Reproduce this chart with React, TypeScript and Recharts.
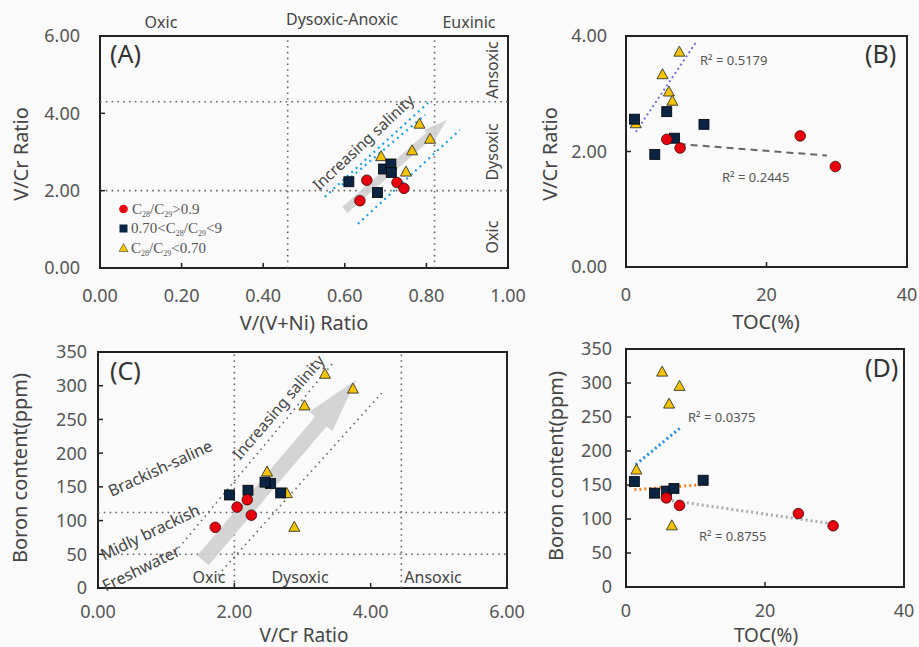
import React from 'react';
import { ScatterChart, Scatter, XAxis, YAxis, ReferenceLine, ReferenceArea } from 'recharts';

const FONT = '"Noto Sans", "Open Sans", sans-serif';
const SERIF = '"Liberation Serif", "Times New Roman", serif';
const TICK = '#555';
const LABEL = '#444';

type Pt = { x: number; y: number };

// ---- Panel A: V/(V+Ni) vs V/Cr ----
const aCircles: Pt[] = [{ x: 0.728, y: 2.21 }, { x: 0.745, y: 2.06 }, { x: 0.654, y: 2.27 }, { x: 0.637, y: 1.74 }];
const aSquares: Pt[] = [{ x: 0.695, y: 2.56 }, { x: 0.713, y: 2.69 }, { x: 0.61, y: 2.23 }, { x: 0.68, y: 1.95 }, { x: 0.714, y: 2.47 }];
const aTriangles: Pt[] = [{ x: 0.783, y: 3.72 }, { x: 0.809, y: 3.33 }, { x: 0.765, y: 3.03 }, { x: 0.689, y: 2.88 }, { x: 0.75, y: 2.48 }];
const aXTicks = [0, 0.2, 0.4, 0.6, 0.8, 1.0];
const aYTicks = [0, 2, 4, 6];
const aHLines = [2.0, 4.3];
const aVLines = [0.46, 0.82];
const aChannelUpper: Pt[] = [{ x: 0.551, y: 1.84 }, { x: 0.804, y: 4.27 }];
const aChannelMiddle: Pt[] = [{ x: 0.593, y: 2.15 }, { x: 0.797, y: 3.96 }];
const aChannelLower: Pt[] = [{ x: 0.632, y: 1.14 }, { x: 0.882, y: 3.57 }];
const aArrow: Pt[] = [{ x: 0.6, y: 1.5 }, { x: 0.85, y: 3.83 }];

// ---- Panel B: TOC vs V/Cr ----
const bCircles: Pt[] = [{ x: 5.8, y: 2.21 }, { x: 7.7, y: 2.06 }, { x: 24.8, y: 2.27 }, { x: 29.8, y: 1.74 }];
const bSquares: Pt[] = [{ x: 1.2, y: 2.56 }, { x: 5.8, y: 2.69 }, { x: 6.9, y: 2.23 }, { x: 4.1, y: 1.95 }, { x: 11.1, y: 2.47 }];
const bTriangles: Pt[] = [{ x: 7.6, y: 3.72 }, { x: 5.2, y: 3.33 }, { x: 6.1, y: 3.03 }, { x: 6.6, y: 2.87 }, { x: 1.4, y: 2.48 }];
const bXTicks = [0, 20, 40];
const bYTicks = [0, 2, 4];
const bTrendTriangles: Pt[] = [{ x: 1.4, y: 2.34 }, { x: 9.9, y: 3.88 }];
const bTrendCircles: Pt[] = [{ x: 7.5, y: 2.13 }, { x: 28.6, y: 1.93 }];

// ---- Panel C: V/Cr vs Boron ----
const cCircles: Pt[] = [{ x: 2.19, y: 131 }, { x: 2.04, y: 120 }, { x: 2.25, y: 108 }, { x: 1.72, y: 90 }];
const cSquares: Pt[] = [{ x: 2.53, y: 155 }, { x: 2.68, y: 141 }, { x: 2.2, y: 145 }, { x: 1.93, y: 138 }, { x: 2.45, y: 157 }];
const cTriangles: Pt[] = [{ x: 3.33, y: 317 }, { x: 3.74, y: 295 }, { x: 3.03, y: 270 }, { x: 2.48, y: 172 }, { x: 2.88, y: 90 }, { x: 2.77, y: 140 }];
const cXTicks = [0, 2, 4, 6];
const cYTicks = [0, 50, 100, 150, 200, 250, 300, 350];
const cHLines = [50, 112];
const cVLines = [2.0, 4.45];
const cChannelLeft: Pt[] = [{ x: 1.13, y: 53 }, { x: 3.45, y: 334 }];
const cChannelRight: Pt[] = [{ x: 1.76, y: 19 }, { x: 4.16, y: 289 }];
const cArrow: Pt[] = [{ x: 1.54, y: 41 }, { x: 3.79, y: 309 }];

// ---- Panel D: TOC vs Boron ----
const dCircles: Pt[] = [{ x: 5.8, y: 131 }, { x: 7.7, y: 120 }, { x: 24.8, y: 108 }, { x: 29.8, y: 90 }];
const dSquares: Pt[] = [{ x: 1.2, y: 155 }, { x: 5.8, y: 141 }, { x: 6.9, y: 145 }, { x: 4.1, y: 138 }, { x: 11.1, y: 157 }];
const dTriangles: Pt[] = [{ x: 5.2, y: 316 }, { x: 7.7, y: 295 }, { x: 6.2, y: 269 }, { x: 1.5, y: 172 }, { x: 6.6, y: 90 }];
const dXTicks = [0, 20, 40];
const dYTicks = [0, 50, 100, 150, 200, 250, 300, 350];
const dTrendTriangles: Pt[] = [{ x: 1.4, y: 180 }, { x: 7.8, y: 234 }];
const dTrendSquares: Pt[] = [{ x: 1.2, y: 143 }, { x: 11.6, y: 151 }];
const dTrendCircles: Pt[] = [{ x: 5.9, y: 128 }, { x: 29.7, y: 93 }];

// ---- marker shapes ----
const circleShape = (p: any) => (
  <circle cx={p.cx} cy={p.cy} r={5.3} fill="#e8000e" stroke="#3a0a0a" strokeWidth={0.8} />
);
const squareShape = (p: any) => (
  <rect x={p.cx - 5} y={p.cy - 5} width={10} height={10} fill="#0c2444" stroke="#000" strokeWidth={0.8} />
);
const triShape = (p: any) => (
  <polygon
    points={`${p.cx},${p.cy - 6} ${p.cx + 5.5},${p.cy + 4} ${p.cx - 5.5},${p.cy + 4}`}
    fill="#f5c300"
    stroke="#333"
    strokeWidth={0.9}
  />
);

const makeArrow = (shaft: number, headW: number, headL: number) => (p: any) => {
  const { x1, y1, x2, y2 } = p;
  if (x1 == null || y1 == null || x2 == null || y2 == null) return <g />;
  const dx = x2 - x1;
  const dy = y2 - y1;
  const L = Math.hypot(dx, dy) || 1;
  const ux = dx / L;
  const uy = dy / L;
  const nx = -uy;
  const ny = ux;
  const bx = x2 - ux * headL;
  const by = y2 - uy * headL;
  const pts = [
    [x1 + (nx * shaft) / 2, y1 + (ny * shaft) / 2],
    [bx + (nx * shaft) / 2, by + (ny * shaft) / 2],
    [bx + (nx * headW) / 2, by + (ny * headW) / 2],
    [x2, y2],
    [bx - (nx * headW) / 2, by - (ny * headW) / 2],
    [bx - (nx * shaft) / 2, by - (ny * shaft) / 2],
    [x1 - (nx * shaft) / 2, y1 - (ny * shaft) / 2],
  ];
  return <polygon points={pts.map((q) => q.join(',')).join(' ')} fill="#cfcfcf" fillOpacity={0.9} />;
};

interface PanelProps {
  left: number;
  top: number;
  width: number;
  height: number;
  margin: { top: number; right: number; bottom: number; left: number };
  xDomain: [number, number];
  yDomain: [number, number];
  xTicks: number[];
  yTicks: number[];
  xFmt: (v: number) => string;
  yFmt: (v: number) => string;
  xTickMargin: number;
  yTickMargin: number;
  circles: Pt[];
  squares: Pt[];
  triangles: Pt[];
  extras: React.ReactNode;
}

function Panel(props: PanelProps) {
  const tickStyle = { fill: TICK, fontSize: 18, fontFamily: FONT };
  return (
    <div style={{ position: 'absolute', left: props.left, top: props.top, width: props.width, height: props.height }}>
      <ScatterChart width={props.width} height={props.height} margin={props.margin}>
        <XAxis
          type="number"
          dataKey="x"
          domain={props.xDomain}
          ticks={props.xTicks}
          tickFormatter={props.xFmt}
          allowDataOverflow
          axisLine={false}
          tickLine={{ stroke: '#222', strokeWidth: 1.5 }}
          tickSize={-5}
          tickMargin={props.xTickMargin}
          tick={tickStyle}
          height={30}
          interval={0}
        />
        <YAxis
          type="number"
          dataKey="y"
          domain={props.yDomain}
          ticks={props.yTicks}
          tickFormatter={props.yFmt}
          allowDataOverflow
          axisLine={false}
          tickLine={{ stroke: '#222', strokeWidth: 1.5 }}
          tickSize={-5}
          tickMargin={props.yTickMargin}
          tick={tickStyle}
          width={60}
          interval={0}
        />
        {props.extras}
        <ReferenceArea
          x1={props.xDomain[0]}
          x2={props.xDomain[1]}
          y1={props.yDomain[0]}
          y2={props.yDomain[1]}
          fill="none"
          fillOpacity={0}
          stroke="#222"
          strokeWidth={2}
        />
        <Scatter data={props.triangles} shape={triShape} isAnimationActive={false} />
        <Scatter data={props.squares} shape={squareShape} isAnimationActive={false} />
        <Scatter data={props.circles} shape={circleShape} isAnimationActive={false} />
      </ScatterChart>
    </div>
  );
}

const fmt2 = (v: number) => v.toFixed(2);
const fmt0 = (v: number) => String(v);

const grid = { stroke: '#666', strokeWidth: 1.6, strokeDasharray: '1.6 4.2' };
const blueDot = { stroke: '#1ba1e2', strokeWidth: 2.2, strokeDasharray: '2 4' };

function seg(pts: Pt[], style: any, key: string) {
  return (
    <ReferenceLine
      key={key}
      segment={[{ x: pts[0].x, y: pts[0].y }, { x: pts[1].x, y: pts[1].y }]}
      ifOverflow="visible"
      {...style}
    />
  );
}

export default function App() {
  const aExtras = [
    ...aHLines.map((v, i) => <ReferenceLine key={'ah' + i} y={v} {...grid} />),
    ...aVLines.map((v, i) => <ReferenceLine key={'av' + i} x={v} {...grid} />),
    seg(aChannelUpper, blueDot, 'acu'),
    seg(aChannelMiddle, blueDot, 'acm'),
    seg(aChannelLower, blueDot, 'acl'),
    <ReferenceLine
      key="aarrow"
      segment={[{ x: aArrow[0].x, y: aArrow[0].y }, { x: aArrow[1].x, y: aArrow[1].y }]}
      ifOverflow="visible"
      shape={makeArrow(8, 15, 24)}
    />,
  ];
  const bExtras = [
    seg(bTrendTriangles, { stroke: '#7272d8', strokeWidth: 2, strokeDasharray: '2 3' }, 'bt'),
    seg(bTrendCircles, { stroke: '#666', strokeWidth: 2, strokeDasharray: '7 5' }, 'bc'),
  ];
  const cExtras = [
    ...cHLines.map((v, i) => <ReferenceLine key={'ch' + i} y={v} {...grid} />),
    ...cVLines.map((v, i) => <ReferenceLine key={'cv' + i} x={v} {...grid} />),
    seg(cChannelLeft, grid, 'ccl'),
    seg(cChannelRight, grid, 'ccr'),
    <ReferenceLine
      key="carrow"
      segment={[{ x: cArrow[0].x, y: cArrow[0].y }, { x: cArrow[1].x, y: cArrow[1].y }]}
      ifOverflow="visible"
      shape={makeArrow(15, 30, 55)}
    />,
  ];
  const dExtras = [
    seg(dTrendTriangles, { stroke: '#1f8fe0', strokeWidth: 3, strokeDasharray: '2 3' }, 'dt'),
    seg(dTrendSquares, { stroke: '#f58220', strokeWidth: 3, strokeDasharray: '2 3' }, 'ds'),
    seg(dTrendCircles, { stroke: '#aaa', strokeWidth: 3, strokeDasharray: '2 3' }, 'dc'),
  ];

  const t = (x: number, y: number, s: string, opts: any = {}) => (
    <text
      x={x}
      y={y}
      fontFamily={FONT}
      fontSize={opts.size ?? 16}
      fill={opts.fill ?? LABEL}
      textAnchor={opts.anchor ?? 'middle'}
      dominantBaseline={opts.baseline ?? 'auto'}
      transform={opts.rot != null ? `rotate(${opts.rot} ${x} ${y})` : undefined}
    >
      {s}
    </text>
  );

  const legendText = (x: number, y: number, pre: string, post: string) => (
    <text x={x} y={y} fontFamily={SERIF} fontSize={15} fill="#555">
      {pre}C<tspan fontSize={8} dy={3}>28</tspan>
      <tspan dy={-3}>/C</tspan>
      <tspan fontSize={8} dy={3}>29</tspan>
      <tspan dy={-3}>{post}</tspan>
    </text>
  );

  return (
    <div style={{ position: 'absolute', left: 0, top: 0, width: 919, height: 647, background: '#fafafa', overflow: 'hidden' }}>
      <Panel
        left={0}
        top={0}
        width={540}
        height={330}
        margin={{ top: 36, right: 32, bottom: 32, left: 40 }}
        xDomain={[0, 1]}
        yDomain={[0, 6]}
        xTicks={aXTicks}
        yTicks={aYTicks}
        xFmt={fmt2}
        yFmt={fmt2}
        xTickMargin={26}
        yTickMargin={25}
        circles={aCircles}
        squares={aSquares}
        triangles={aTriangles}
        extras={aExtras}
      />
      <Panel
        left={540}
        top={0}
        width={379}
        height={330}
        margin={{ top: 36, right: 12, bottom: 33, left: 26 }}
        xDomain={[0, 40]}
        yDomain={[0, 4]}
        xTicks={bXTicks}
        yTicks={bYTicks}
        xFmt={fmt0}
        yFmt={fmt2}
        xTickMargin={26}
        yTickMargin={24}
        circles={bCircles}
        squares={bSquares}
        triangles={bTriangles}
        extras={bExtras}
      />
      <Panel
        left={0}
        top={330}
        width={540}
        height={317}
        margin={{ top: 22, right: 33, bottom: 29, left: 38 }}
        xDomain={[0, 6]}
        yDomain={[0, 350]}
        xTicks={cXTicks}
        yTicks={cYTicks}
        xFmt={fmt2}
        yFmt={fmt0}
        xTickMargin={22}
        yTickMargin={16}
        circles={cCircles}
        squares={cSquares}
        triangles={cTriangles}
        extras={cExtras}
      />
      <Panel
        left={540}
        top={330}
        width={379}
        height={317}
        margin={{ top: 19, right: 15, bottom: 30, left: 26 }}
        xDomain={[0, 40]}
        yDomain={[0, 350]}
        xTicks={dXTicks}
        yTicks={dYTicks}
        xFmt={fmt0}
        yFmt={fmt0}
        xTickMargin={22}
        yTickMargin={19}
        circles={dCircles}
        squares={dSquares}
        triangles={dTriangles}
        extras={dExtras}
      />
      <svg
        width={919}
        height={647}
        style={{ position: 'absolute', left: 0, top: 0, pointerEvents: 'none' }}
      >
        {/* Panel A */}
        {t(110, 63, '(A)', { size: 25, anchor: 'start', fill: '#333' })}
        {t(161, 28, 'Oxic')}
        {t(342, 25, 'Dysoxic-Anoxic')}
        {t(469, 28, 'Euxinic')}
        {t(492, 70, 'Ansoxic', { rot: -90, baseline: 'central' })}
        {t(492, 152, 'Dysoxic', { rot: -90, baseline: 'central' })}
        {t(492, 237, 'Oxic', { rot: -90, baseline: 'central' })}
        {t(363, 142, 'Increasing salinity', { rot: -43, baseline: 'central', size: 15.5 })}
        {t(304, 322, 'V/(V+Ni) Ratio', { size: 20, baseline: 'central' })}
        {t(20, 154, 'V/Cr Ratio', { size: 20, rot: -90, baseline: 'central' })}
        <circle cx={123.5} cy={209} r={4.3} fill="#e8000e" />
        {legendText(132, 214, '', '>0.9')}
        <rect x={119.5} y={224.5} width={8} height={8} fill="#0c2444" />
        {legendText(131, 233, '0.70<', '<9')}
        <polygon points="123.5,243.5 128,251.5 119,251.5" fill="#f5c300" stroke="#444" strokeWidth={0.6} />
        {legendText(131, 252.5, '', '<0.70')}

        {/* Panel B */}
        {t(865, 63, '(B)', { size: 25, anchor: 'start', fill: '#333' })}
        {t(700, 60, 'R² = 0.5179', { size: 13, anchor: 'start', baseline: 'central', fill: '#555' })}
        {t(722, 177, 'R² = 0.2445', { size: 13, anchor: 'start', baseline: 'central', fill: '#555' })}
        {t(766, 321, 'TOC(%)', { size: 20, baseline: 'central' })}
        {t(549, 154, 'V/Cr Ratio', { size: 20, rot: -90, baseline: 'central' })}

        {/* Panel C */}
        {t(110, 380, '(C)', { size: 25, anchor: 'start', fill: '#333' })}
        {t(209, 583, 'Oxic')}
        {t(300, 583, 'Dysoxic')}
        {t(433, 583, 'Ansoxic')}
        {t(160, 468, 'Brackish-saline', { rot: -24.7, baseline: 'central' })}
        {t(150, 532, 'Midly brackish', { rot: -25.7, baseline: 'central' })}
        {t(141, 568, 'Freshwater', { rot: -26, baseline: 'central' })}
        {t(278, 407, 'Increasing salinity', { rot: -49.4, baseline: 'central', size: 15.5 })}
        {t(304, 635, 'V/Cr Ratio', { size: 19, baseline: 'central' })}
        {t(19, 468, 'Boron content(ppm)', { size: 20, rot: -90, baseline: 'central' })}

        {/* Panel D */}
        {t(865, 377, '(D)', { size: 25, anchor: 'start', fill: '#333' })}
        {t(688, 417, 'R² = 0.0375', { size: 13, anchor: 'start', baseline: 'central', fill: '#555' })}
        {t(699, 536, 'R² = 0.8755', { size: 13, anchor: 'start', baseline: 'central', fill: '#555' })}
        {t(766, 635, 'TOC(%)', { size: 19, baseline: 'central' })}
        {t(555, 466, 'Boron content(ppm)', { size: 20, rot: -90, baseline: 'central' })}
      </svg>
    </div>
  );
}
